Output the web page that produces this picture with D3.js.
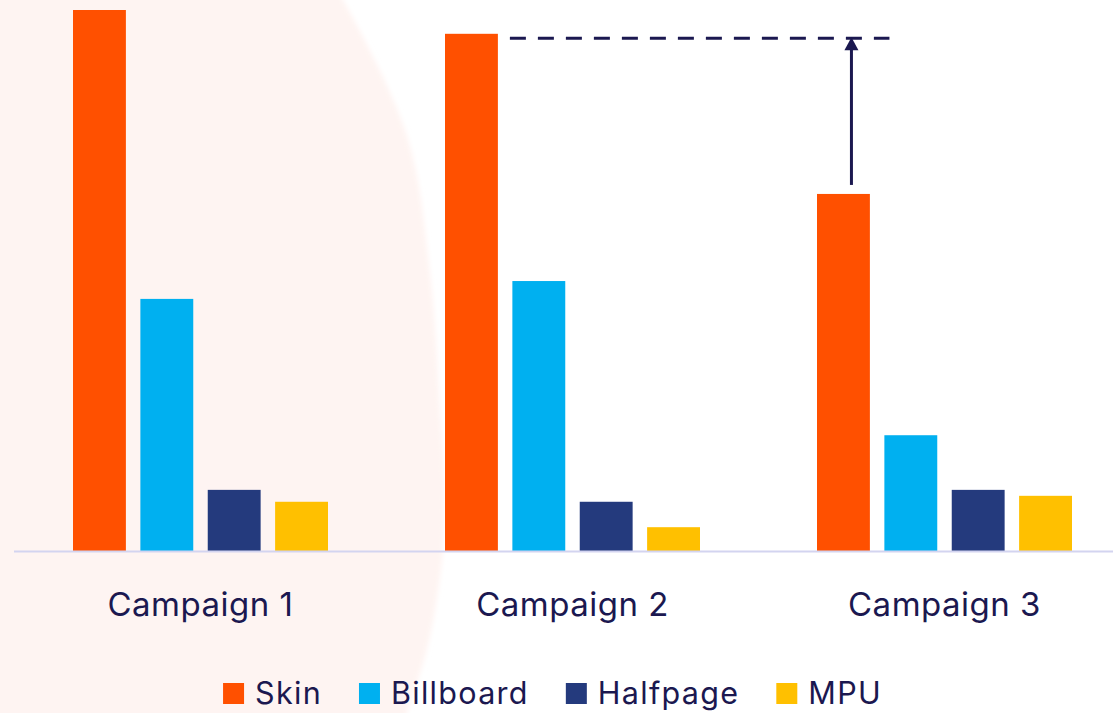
<!DOCTYPE html>
<html>
<head>
<meta charset="utf-8">
<script src="https://cdn.jsdelivr.net/npm/d3@7"></script>
<style>
  html, body { margin: 0; padding: 0; background: #ffffff; }
  svg { display: block; }
</style>
</head>
<body>
<svg id="chart" width="1113" height="713"></svg>
<script>
// Campaign comparison by ad format
const campaigns = ["Campaign 1", "Campaign 2", "Campaign 3"];
const formats = ["Skin", "Billboard", "Halfpage", "MPU"];
const skinValues = [100, 95.6, 66.0];
const billboardValues = [46.6, 49.9, 21.4];
const halfpageValues = [11.3, 9.1, 11.3];
const mpuValues = [9.1, 4.4, 10.2];
const formatColors = ["#ff5000", "#00b0f0", "#243a7d", "#ffc000"];
// Reference level reached by Campaign 2 skin, and the uplift needed by Campaign 3
const targetValue = 94.8;
const upliftCampaign = "Campaign 3";

const seriesByFormat = [skinValues, billboardValues, halfpageValues, mpuValues];
const rows = campaigns.map((c, i) => ({
  campaign: c,
  values: formats.map((f, j) => ({ format: f, value: seriesByFormat[j][i] }))
}));

const W = 1113, H = 713;
const ink = "#1b1850";
const fontStack = "Inter, 'Open Sans', sans-serif";
const svg = d3.select("#chart");

// soft pink backdrop shape on the left
const defs = svg.append("defs");
defs.append("filter").attr("id", "soft")
  .attr("x", "-10%").attr("y", "-10%").attr("width", "120%").attr("height", "120%")
  .append("feGaussianBlur").attr("stdDeviation", 2.5);
const blobEdge = [[330, -20], [343, 0], [407, 136], [430, 273], [440, 409], [445, 520], [430, 636], [407, 713], [398, 740]];
const edgePath = d3.line().curve(d3.curveCatmullRom)(blobEdge);
svg.append("path")
  .attr("d", "M-20,-20 L" + edgePath.slice(1) + " L-20,740 Z")
  .attr("fill", "#fef4f2")
  .attr("filter", "url(#soft)");

// scales
const x0 = d3.scaleBand().domain(campaigns).range([14.5, 1130.5]).padding(0);
const x1 = d3.scaleBand().domain(formats).range([-127.5, 127.5]).paddingInner(0.215).paddingOuter(0);
const y = d3.scaleLinear().domain([0, 100]).range([551, 10]);
const color = d3.scaleOrdinal().domain(formats).range(formatColors);

// bars
const groups = svg.append("g").selectAll("g")
  .data(rows).join("g")
  .attr("transform", d => `translate(${x0(d.campaign) + x0.bandwidth() / 2},0)`);
groups.selectAll("rect")
  .data(d => d.values).join("rect")
  .attr("x", d => x1(d.format))
  .attr("width", x1.bandwidth())
  .attr("y", d => y(d.value))
  .attr("height", d => y(0) - y(d.value))
  .attr("fill", d => color(d.format));

// baseline axis
const xAxis = d3.axisBottom(x0).tickSize(0).tickPadding(0);
const axisG = svg.append("g").attr("transform", `translate(0,${y(0)})`).call(xAxis);
axisG.select(".domain")
  .attr("d", `M14,0.5H${W}`)
  .attr("stroke", "#d3d4f0").attr("stroke-width", 2);
axisG.selectAll(".tick text")
  .attr("y", 65).attr("dy", null)
  .attr("font-family", fontStack)
  .attr("font-size", 33)
  .attr("letter-spacing", 0.5)
  .attr("fill", ink);

// dashed reference line from Campaign 2 skin across to Campaign 3
const c2 = campaigns[1];
const lineStart = x0(c2) + x0.bandwidth() / 2 + x1("Skin") + x1.bandwidth() + 12;
const upX = x0(upliftCampaign) + x0.bandwidth() / 2 + x1("Skin") + x1.bandwidth() / 2 + 8;
svg.append("line")
  .attr("x1", lineStart).attr("x2", upX + 38)
  .attr("y1", y(targetValue)).attr("y2", y(targetValue))
  .attr("stroke", ink).attr("stroke-width", 3)
  .attr("stroke-dasharray", "16 12");

// uplift arrow
const c3Skin = skinValues[campaigns.indexOf(upliftCampaign)];
const arrowBottom = y(c3Skin) - 9;
const arrowTop = y(targetValue) - 1;
svg.append("line")
  .attr("x1", upX).attr("x2", upX)
  .attr("y1", arrowBottom).attr("y2", arrowTop + 12)
  .attr("stroke", ink).attr("stroke-width", 3);
svg.append("path")
  .attr("d", `M${upX},${arrowTop} L${upX + 7},${arrowTop + 13} L${upX - 7},${arrowTop + 13} Z`)
  .attr("fill", ink);

// legend
const legend = svg.append("g");
const items = legend.selectAll("g").data(formats).join("g");
items.append("rect")
  .attr("width", 21).attr("height", 21).attr("y", -21)
  .attr("fill", d => color(d));
items.append("text")
  .attr("x", 32).attr("y", 0)
  .attr("font-family", fontStack)
  .attr("font-size", 30.5)
  .attr("letter-spacing", 1.3)
  .attr("fill", ink)
  .text(d => d);
let cursor = 0;
const offsets = [];
items.each(function () {
  offsets.push(cursor);
  const tw = d3.select(this).select("text").node().getComputedTextLength();
  cursor += 32 + tw + 37;
});
const total = cursor - 37;
const legendLeft = 552.5 - total / 2;
items.attr("transform", (d, i) => `translate(${offsets[i]},0)`);
legend.attr("transform", `translate(${legendLeft},704)`);
</script>
</body>
</html>
